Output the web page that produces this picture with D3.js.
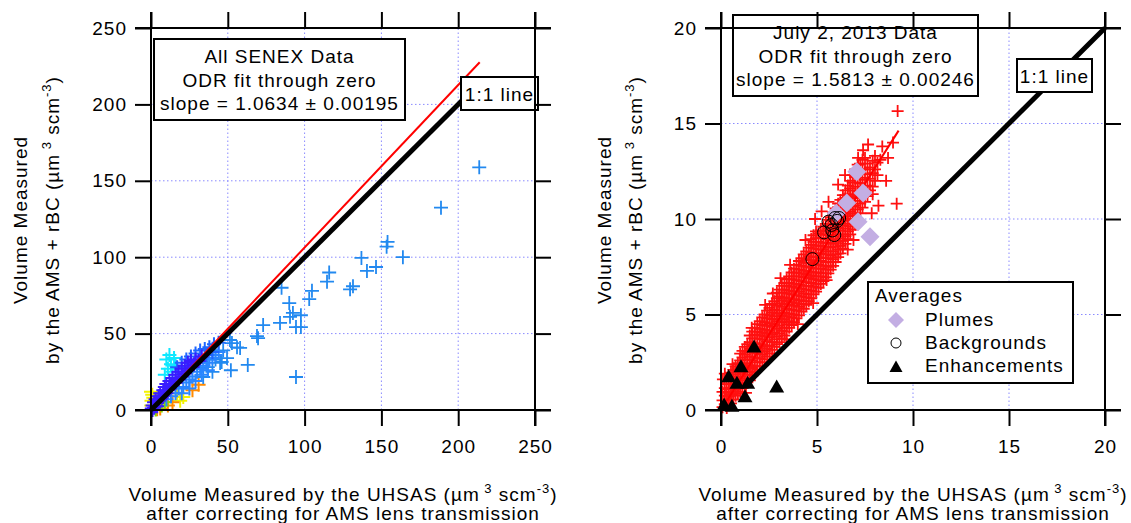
<!DOCTYPE html>
<html>
<head>
<meta charset="utf-8">
<script src="https://cdn.jsdelivr.net/npm/d3@7"></script>
<style>
body { margin: 0; background: #fff; }
svg text { font-family: "Liberation Sans", Arial, sans-serif; font-size: 19px; letter-spacing: 1px; fill: #000; }
</style>
</head>
<body>
<script>
// ---- data ----
var leftTicks = [0, 50, 100, 150, 200, 250];
var rightTicks = [0, 5, 10, 15, 20];

var leftFit = { slope: 1.0634, maxX: 214 };
var rightFit = { slope: 1.5813, maxX: 9.25 };
var leftOneToOne = [0, 214];
var rightOneToOne = [1.25, 20];

var leftNote = ["All SENEX Data", "ODR fit through zero", "slope = 1.0634 \u00b1 0.00195"];
var rightNote = ["July 2, 2013 Data", "ODR fit through zero", "slope = 1.5813 \u00b1 0.00246"];
var legendItems = ["Plumes", "Backgrounds", "Enhancements"];

// left panel, all SENEX points (colour groups)
var leftSparse = [[213.7,158.8],[188.8,132.4],[164,100],[154,110],[153.4,106.9],[146.5,93.6],[137,99.5],
  [140.6,91],[116,90],[114.6,84],[131.5,81],[129.6,79],[85,80],[104.8,78],[103,72.6],[90,70],
  [92.4,63.5],[97.6,62],[90.5,61],[94.4,54.3],[97.6,54.3],[84,57],[73,55.6],[69,48.4],[69.7,47],
  [52.7,43.8],[56,41],[47,39],[49.5,34],[45,30.8],[63,29.5],[52,26],[94.4,21.6],[40,39],[40,25],
  [51.4,45.8],[58,40.6],[46,31.4],[30.6,30.8],[34,21.6],[42,33],[37,28]];
var leftYellow = [[0.3,6],[0.8,10],[0,12],[1.5,8],[0.2,3],[17,11],[21,8.5],[19,6]];
var leftOrange = [[27,13],[31,16.5],[4,0.5],[6,1],[11,3],[14,5]];
var leftGreen = [[7,3],[9,5],[3,0.3]];
var leftCyan = [[10,33],[12,36],[13,30],[15,34],[11,27],[14,25],[16,29],[9,23]];
var leftBlueLow = [[10,7],[13,9],[16,11],[18,14],[21,15],[23,18],[25,20],[27,22],[29,19],[30,25],
  [32,27],[34,29],[36,31],[38,33],[40,34],[42,36],[44,38],[33,23],[37,26],[25,14],[20,11]];
var leftBlueHigh = [[17,28],[20,31],[23,33],[26,35],[29,37],[32,39],[35,40],[38,41],[41,43],[44,44],[36,36],[40,38]];
var leftViolet = [[0.5,1],[1,3],[2,5],[3,2.5],[3,7],[4,4.5],[5,9],[5,6],[6,11],[7,8],[8,13],[8,9.5],
  [9,15],[10,11],[10,17],[11,13],[12,19],[12,14],[13,16],[14,21],[14,17],[16,18],[16,23],[18,20],
  [18,25],[20,22],[20,27],[22,24],[22,29],[24,26],[24,31],[26,28],[26,32],[28,30],[29,33],[31,32],
  [33,35],[1,0],[2,1.5],[4,2.5]];

// right panel, July 2 points: columns of [x, [y...]] plus scattered ones
var redCols = [
  [0.08, [0.15, 0.5, 0.95]],
  [0.2, [0.3, 0.75, 1.15]],
  [0.3, [0.1, 0.55, 0.9, 1.35]],
  [0.41, [0.25, 0.7, 1.1, 1.5]],
  [0.52, [0.35, 0.8, 1.15, 1.6, 1.95]],
  [0.64, [0.55, 0.95, 1.35, 1.75, 2.1]],
  [0.76, [0.75, 1.05, 1.5, 1.85, 2.3]],
  [0.88, [0.85, 1.25, 1.65, 2.05, 2.45]],
  [1.0, [0.95, 1.4, 1.75, 2.2, 2.6, 2.95]],
  [1.12, [1.15, 1.55, 1.95, 2.35, 2.75, 3.1]],
  [1.24, [1.3, 1.65, 2.1, 2.45, 2.9, 3.3]],
  [1.37, [1.45, 1.85, 2.25, 2.65, 3.05, 3.45]],
  [1.5, [1.55, 2.0, 2.35, 2.8, 3.2, 3.55, 3.9]],
  [1.63, [1.8, 2.2, 2.6, 3.0, 3.4, 3.75, 4.1]],
  [1.76, [1.95, 2.3, 2.75, 3.15, 3.5, 3.95, 4.3]],
  [1.89, [2.1, 2.5, 2.95, 3.3, 3.75, 4.1, 4.5]],
  [2.02, [2.3, 2.7, 3.1, 3.45, 3.9, 4.25, 4.65]],
  [2.15, [2.5, 2.9, 3.3, 3.7, 4.05, 4.45, 4.85]],
  [2.27, [2.65, 3.05, 3.4, 3.85, 4.2, 4.6, 5.0]],
  [2.4, [2.8, 3.2, 3.6, 4.0, 4.4, 4.8, 5.2]],
  [2.53, [2.95, 3.35, 3.8, 4.15, 4.55, 4.95, 5.35]],
  [2.66, [3.15, 3.55, 3.95, 4.35, 4.75, 5.1, 5.55]],
  [2.78, [3.3, 3.7, 4.05, 4.5, 4.9, 5.25, 5.7]],
  [2.91, [3.45, 3.85, 4.25, 4.65, 5.05, 5.45, 5.85, 6.15]],
  [3.04, [3.55, 4.0, 4.4, 4.8, 5.2, 5.6, 5.95, 6.3]],
  [3.17, [3.75, 4.15, 4.6, 4.95, 5.4, 5.75, 6.15, 6.5]],
  [3.3, [3.9, 4.3, 4.75, 5.1, 5.55, 5.9, 6.3, 6.65]],
  [3.42, [4.1, 4.5, 4.9, 5.3, 5.7, 6.1, 6.5, 6.85]],
  [3.55, [4.3, 4.65, 5.05, 5.5, 5.85, 6.25, 6.65, 7.0]],
  [3.68, [4.45, 4.85, 5.25, 5.65, 6.05, 6.45, 6.85, 7.2]],
  [3.8, [4.6, 5.0, 5.45, 5.8, 6.2, 6.6, 7.0, 7.4]],
  [3.93, [4.8, 5.2, 5.6, 6.0, 6.4, 6.8, 7.2, 7.6]],
  [4.06, [4.95, 5.4, 5.75, 6.2, 6.55, 7.0, 7.35, 7.8]],
  [4.19, [5.15, 5.55, 5.95, 6.35, 6.75, 7.15, 7.55, 7.95]],
  [4.31, [5.3, 5.7, 6.1, 6.5, 6.95, 7.3, 7.7, 8.15]],
  [4.44, [5.5, 5.9, 6.3, 6.7, 7.1, 7.5, 7.9, 8.3]],
  [4.57, [5.7, 6.05, 6.5, 6.9, 7.25, 7.7, 8.05, 8.5]],
  [4.7, [5.85, 6.25, 6.65, 7.05, 7.45, 7.85, 8.25, 8.65, 8.95]],
  [4.82, [6.05, 6.45, 6.85, 7.2, 7.65, 8.0, 8.45, 8.8, 9.15]],
  [4.95, [6.2, 6.6, 7.0, 7.4, 7.8, 8.2, 8.6, 9.0, 9.35]],
  [5.08, [6.4, 6.8, 7.2, 7.6, 8.0, 8.4, 8.8, 9.25]],
  [5.2, [6.6, 7.0, 7.4, 7.8, 8.2, 8.6, 9.0, 9.4]],
  [5.33, [6.75, 7.15, 7.55, 7.95, 8.4, 8.75, 9.2, 9.6]],
  [5.46, [6.95, 7.35, 7.75, 8.15, 8.55, 8.95, 9.35, 9.75]],
  [5.59, [7.15, 7.5, 7.95, 8.3, 8.75, 9.15, 9.5, 9.95]],
  [5.71, [7.35, 7.75, 8.1, 8.5, 8.9, 9.3, 9.7, 10.1]],
  [5.84, [7.55, 7.9, 8.3, 8.7, 9.1, 9.5, 9.9, 10.35]],
  [5.97, [7.75, 8.15, 8.55, 8.95, 9.35, 9.75, 10.15, 10.55]],
  [6.1, [8.0, 8.4, 8.8, 9.2, 9.55, 10.0, 10.4, 10.8]],
  [6.22, [8.2, 8.6, 9.0, 9.4, 9.8, 10.2, 10.6, 11.0]],
  [6.35, [8.45, 8.85, 9.2, 9.65, 10.05, 10.45, 10.85, 11.25]],
  [6.48, [8.7, 9.1, 9.5, 9.9, 10.3, 10.7, 11.1, 11.5]],
  [6.61, [8.95, 9.35, 9.75, 10.15, 10.5, 10.95, 11.3, 11.75]],
  [6.73, [9.2, 9.6, 10.0, 10.4, 10.8, 11.2, 11.6, 12.0]],
  [6.86, [9.45, 9.9, 10.3, 10.65, 11.1, 11.5, 11.9, 12.3]],
  [6.99, [9.7, 10.2, 10.7, 11.2, 11.7, 12.2, 12.6]],
  [7.12, [10.0, 10.5, 10.95, 11.45, 11.9, 12.45, 12.85]],
  [7.25, [10.3, 10.8, 11.3, 11.85, 12.4, 12.9]],
  [7.37, [10.6, 11.15, 11.6, 12.15, 12.6, 13.1]],
  [7.5, [10.9, 11.5, 12.05, 12.6, 13.2]],
  [7.63, [11.2, 11.75, 12.35, 12.9]],
  [7.76, [11.5, 12.1, 12.7]],
  [7.9, [11.7, 12.4, 13.05]],
  [8.02, [12.0, 12.6, 13.3]],
  [8.15, [12.3, 12.95]]
];
var redExtra = [[9.2,15.65],[7.66,13.9],[8.4,13.8],[8.96,14.0],[8.3,13.1],[7.14,13.2],[6.46,12.3],
  [8.2,10.7],[9.15,10.8],[5.24,10.4],[7.85,10.3],[3.1,6.9],[2.3,5.5],[4.4,8.9],[4.0,4.5],[5.5,6.8],
  [1.3,0.9],[0.6,2.4],[6.9,8.9],[8.6,12.0],[4.9,10.0],[5.6,10.9],[6.1,11.8],[3.6,7.6],[2.7,6.1],
  [1.6,4.3],[7.4,13.6],[8.7,13.2],[7.9,11.3],[6.6,8.4],[4.8,5.6],[3.4,3.7],[0.1,1.6],[0.2,1.9]];

var plumes = [[7.07,12.48],[7.4,11.36],[6.55,10.84],[7.14,9.86],[7.76,9.07],[6.0,10.3]];
var backgrounds = [[4.76,7.9],[5.37,9.3],[5.8,9.4],[5.9,9.16],[5.6,9.86],[5.94,10.05],[6.15,10.05],[5.76,9.69],[6.05,9.9]];
var enhancements = [[1.72,3.3],[1.04,2.27],[0.4,1.74],[0.83,1.4],[1.39,1.4],[2.9,1.2],[1.25,0.7],[0.16,0.26],[0.57,0.2]];

// ---- drawing ----
var svg = d3.select("body").append("svg")
	.attr("width", 1131)
	.attr("height", 523);

var tick = 16;

function crossPath(s) {
	return "M" + (-s) + ",0H" + s + "M0," + (-s) + "V" + s;
}

function makePanel(px0, px1, max, ticks) {
	var x = d3.scaleLinear().domain([0, max]).range([px0, px1]);
	var y = d3.scaleLinear().domain([0, max]).range([410, 28]);
	var g = svg.append("g");
	var grid = g.append("g");
	var inner = ticks.slice(1, -1);
	grid.selectAll(".gx").data(inner).enter().append("line")
		.attr("x1", function(d) { return x(d); }).attr("x2", function(d) { return x(d); })
		.attr("y1", y(0)).attr("y2", y(max));
	grid.selectAll(".gy").data(inner).enter().append("line")
		.attr("y1", function(d) { return y(d); }).attr("y2", function(d) { return y(d); })
		.attr("x1", x(0)).attr("x2", x(max));
	grid.selectAll("line")
		.attr("stroke", "#8a8aff")
		.attr("stroke-width", 1)
		.attr("stroke-dasharray", "1.5,2.5");
	var data = g.append("g");
	var over = g.append("g");
	return { g: g, data: data, over: over, x: x, y: y, max: max, ticks: ticks };
}

function drawAxes(p) {
	var g = p.g.append("g");
	var x = p.x, y = p.y;
	g.append("g").attr("transform", "translate(0," + y(0) + ")")
		.call(d3.axisBottom(x).tickValues(p.ticks).tickSize(tick).tickSizeOuter(0))
		.call(function(a) { a.select(".domain").remove(); a.selectAll("text").attr("y", 43).attr("dy", 0); });
	g.append("g").attr("transform", "translate(" + x(0) + ",0)")
		.call(d3.axisLeft(y).tickValues(p.ticks).tickSize(tick).tickSizeOuter(0))
		.call(function(a) { a.select(".domain").remove(); a.selectAll("text").attr("x", -24); });
	g.append("g").attr("transform", "translate(0," + y(p.max) + ")")
		.call(d3.axisTop(x).tickValues(p.ticks).tickSize(tick).tickFormat(""))
		.call(function(a) { a.select(".domain").remove(); });
	g.append("g").attr("transform", "translate(" + x(p.max) + ",0)")
		.call(d3.axisRight(y).tickValues(p.ticks).tickSize(tick).tickFormat(""))
		.call(function(a) { a.select(".domain").remove(); });
	g.selectAll(".tick line").attr("stroke", "#000").attr("stroke-width", 2);
	g.selectAll(".tick text").style("font-size", "19px").style("font-family", "'Liberation Sans', Arial, sans-serif");
	// frame lines, extended by the tick length like the original
	var x0 = x(0), x1 = x(p.max), y0 = y(0), y1 = y(p.max);
	var frame = [[x0, y1 - tick, x0, y0 + tick], [x1, y1 - tick, x1, y0 + tick],
		[x0 - tick, y0, x1 + tick, y0], [x0 - tick, y1, x1 + tick, y1]];
	g.selectAll(".frame").data(frame).enter().append("line")
		.attr("x1", function(d) { return d[0]; }).attr("y1", function(d) { return d[1]; })
		.attr("x2", function(d) { return d[2]; }).attr("y2", function(d) { return d[3]; })
		.attr("stroke", "#000").attr("stroke-width", 2);
}

function crosses(p, pts, color, s, w) {
	p.data.append("g").selectAll("path").data(pts).enter().append("path")
		.attr("d", crossPath(s))
		.attr("transform", function(d) { return "translate(" + p.x(d[0]) + "," + p.y(d[1]) + ")"; })
		.attr("stroke", color)
		.attr("stroke-width", w)
		.attr("fill", "none");
}

function fitLine(p, x0, x1, slope, color, w) {
	p.data.append("line")
		.attr("x1", p.x(x0)).attr("y1", p.y(x0 * slope))
		.attr("x2", p.x(x1)).attr("y2", p.y(x1 * slope))
		.attr("stroke", color).attr("stroke-width", w);
}

function unitsText(t, prefix) {
	t.append("tspan").text(prefix + " (\u00b5m");
	t.append("tspan").attr("dy", -8).style("font-size", "13px").text(" 3");
	t.append("tspan").attr("dy", 8).text(" scm");
	t.append("tspan").attr("dy", -8).style("font-size", "13px").text("-3");
	t.append("tspan").attr("dy", 8).text(")");
}

function axisLabels(p, yl1, yl2) {
	var cx = (p.x(0) + p.x(p.max)) / 2;
	var t1 = svg.append("text").attr("x", cx).attr("y", 501).attr("text-anchor", "middle");
	unitsText(t1, "Volume Measured by the UHSAS");
	svg.append("text").attr("x", cx).attr("y", 520).attr("text-anchor", "middle")
		.text("after correcting for AMS lens transmission");
	var cy = 220;
	svg.append("text").attr("transform", "translate(" + yl1 + "," + cy + ") rotate(-90)")
		.attr("text-anchor", "middle").text("Volume Measured");
	var t2 = svg.append("text").attr("transform", "translate(" + yl2 + "," + cy + ") rotate(-90)")
		.attr("text-anchor", "middle");
	unitsText(t2, "by the AMS + rBC");
}

function noteBox(p, x0, y0, w, h, lines) {
	p.over.append("rect").attr("x", x0).attr("y", y0).attr("width", w).attr("height", h)
		.attr("fill", "#fff").attr("stroke", "#000").attr("stroke-width", 2);
	p.over.selectAll(".note").data(lines).enter().append("text")
		.attr("x", x0 + w / 2)
		.attr("y", function(d, i) { return y0 + 24 + i * 23.5; })
		.attr("text-anchor", "middle")
		.text(function(d) { return d; });
}

// left panel
var left = makePanel(151, 535, 250, leftTicks);
crosses(left, leftYellow, "#f2f200", 7, 2);
crosses(left, leftOrange, "#ff8a00", 7, 2);
crosses(left, leftGreen, "#7ee000", 7, 2);
crosses(left, leftCyan, "#10e8ff", 7, 2);
crosses(left, leftSparse, "#2289f0", 7, 1.8);
crosses(left, leftBlueLow, "#2a86ff", 7, 2);
crosses(left, leftBlueHigh, "#1e66ff", 7, 2);
crosses(left, leftViolet, "#3a1cff", 7, 2);
fitLine(left, 0, leftFit.maxX, leftFit.slope, "#ff0000", 2);
fitLine(left, leftOneToOne[0], leftOneToOne[1], 1, "#000", 5);
drawAxes(left);
noteBox(left, 154, 39, 251, 81, leftNote);
noteBox(left, 461, 77, 77, 33, ["1:1 line"]);
axisLabels(left, 27, 59);

// right panel
var right = makePanel(721, 1105, 20, rightTicks);
var redPts = [];
redCols.forEach(function(c) { c[1].forEach(function(v) { redPts.push([c[0], v]); }); });
crosses(right, redPts.concat(redExtra), "#ff1010", 6, 1.8);
fitLine(right, rightOneToOne[0], rightOneToOne[1], 1, "#000", 5);
fitLine(right, 0, rightFit.maxX, rightFit.slope, "#ff0000", 2);

right.data.append("g").selectAll("path").data(plumes).enter().append("path")
	.attr("d", "M0,-9.5L9.5,0L0,9.5L-9.5,0Z")
	.attr("transform", function(d) { return "translate(" + right.x(d[0]) + "," + right.y(d[1]) + ")"; })
	.attr("fill", "#c3aee3");
right.data.append("g").selectAll("circle").data(backgrounds).enter().append("circle")
	.attr("cx", function(d) { return right.x(d[0]); })
	.attr("cy", function(d) { return right.y(d[1]); })
	.attr("r", 6.5)
	.attr("fill", "none").attr("stroke", "#000").attr("stroke-width", 1);
right.data.append("g").selectAll("path").data(enhancements).enter().append("path")
	.attr("d", "M0,-7.5L7.5,5.5L-7.5,5.5Z")
	.attr("transform", function(d) { return "translate(" + right.x(d[0]) + "," + right.y(d[1]) + ")"; })
	.attr("fill", "#000");
drawAxes(right);
noteBox(right, 733, 15, 245, 81, rightNote);
noteBox(right, 1017, 59, 75, 33, ["1:1 line"]);
axisLabels(right, 611, 642);

// legend
var lg = right.over.append("g");
lg.append("rect").attr("x", 868).attr("y", 282).attr("width", 205).attr("height", 101)
	.attr("fill", "#fff").attr("stroke", "#000").attr("stroke-width", 2);
lg.append("text").attr("x", 875).attr("y", 302).text("Averages");
lg.selectAll(".item").data(legendItems).enter().append("text")
	.attr("x", 925)
	.attr("y", function(d, i) { return 326 + i * 23; })
	.text(function(d) { return d; });
lg.append("path").attr("d", "M0,-8L8,0L0,8L-8,0Z").attr("transform", "translate(896,320)").attr("fill", "#c3aee3");
lg.append("circle").attr("cx", 896).attr("cy", 343).attr("r", 5).attr("fill", "none").attr("stroke", "#000");
lg.append("path").attr("d", "M0,-6.5L6.5,5L-6.5,5Z").attr("transform", "translate(896,367)").attr("fill", "#000");
</script>
</body>
</html>
